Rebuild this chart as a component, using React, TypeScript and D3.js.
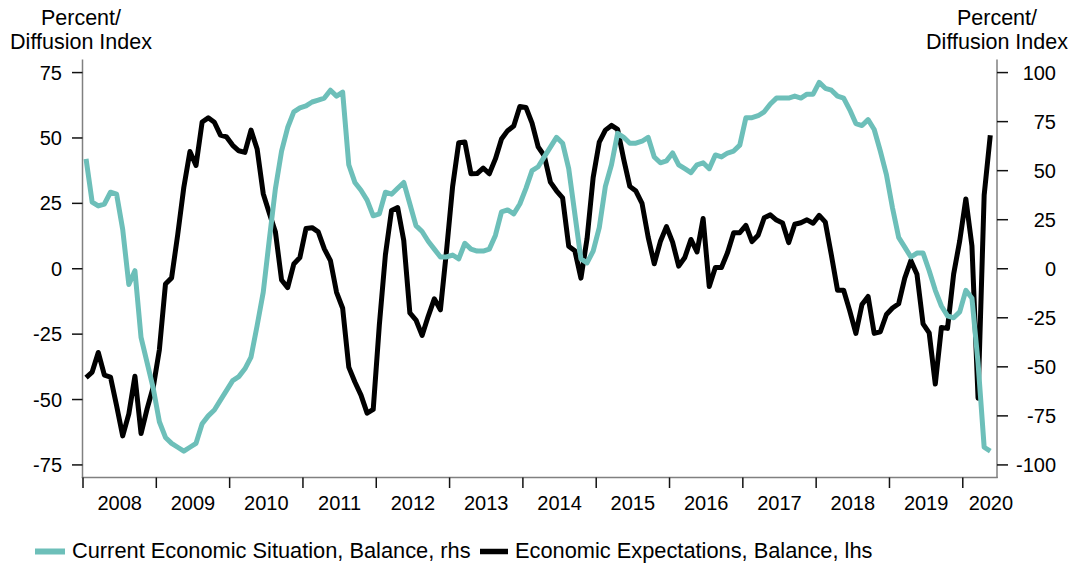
import * as d3 from 'd3';
import * as React from 'react';

// ZEW-style survey, monthly Jan 2008 - May 2020
const years = ['2008', '2009', '2010', '2011', '2012', '2013', '2014', '2015', '2016', '2017', '2018', '2019', '2020'];

// Current Economic Situation, Balance (right axis)
const currentSituation = [
  56, 34, 32, 33, 39, 38, 20, -8, -1, -35, -48, -61,
  -78, -86, -89, -91, -93, -91, -89, -79, -75, -72, -67, -62,
  -57, -55, -51, -45, -29, -12, 15, 41, 60, 72, 80, 82,
  83, 85, 86, 87, 91, 88, 90, 53, 44, 40, 35, 27,
  28, 39, 38, 41, 44, 33, 22, 19, 14, 10, 6, 6,
  7, 5, 13, 10, 9, 9, 10, 17, 29, 30, 28, 33,
  41, 50, 52, 57, 62, 67, 64, 51, 28, 5, 3, 9,
  21, 42, 53, 69, 67, 64, 64, 65, 67, 57, 54, 55,
  59, 53, 51, 49, 53, 54, 51, 58, 57, 59, 60, 63,
  77, 77, 78, 80, 84, 87, 87, 87, 88, 87, 89, 89,
  95, 92, 91, 88, 87, 81, 74, 73, 76, 71, 60, 48,
  31, 16, 11, 6, 8, 8, -1, -11, -19, -24, -25, -22,
  -11, -15, -48, -91, -93,
];

// Economic Expectations, Balance (left axis)
const expectations = [
  -41.6, -39.5, -32.0, -40.7, -41.4, -52.4, -63.9, -55.5, -41.1, -63.0, -53.5, -45.2,
  -31.0, -5.8, -3.5, 13.0, 31.1, 44.8, 39.5, 56.1, 57.7, 56.0, 51.1, 50.4,
  47.2, 45.1, 44.5, 53.0, 45.8, 28.7, 21.2, 14.0, -4.3, -7.2, 1.8, 4.3,
  15.4, 15.7, 14.1, 7.6, 3.1, -9.0, -15.1, -37.6, -43.3, -48.3, -55.2, -53.8,
  -21.6, 5.4, 22.3, 23.4, 10.8, -16.9, -19.6, -25.5, -18.2, -11.5, -15.7, 6.9,
  31.5, 48.2, 48.5, 36.3, 36.4, 38.5, 36.3, 42.0, 49.6, 52.8, 54.6, 62.0,
  61.7, 55.7, 46.6, 43.2, 33.1, 29.8, 27.1, 8.6, 6.9, -3.6, 11.5, 34.9,
  48.4, 53.0, 54.8, 53.3, 41.9, 31.5, 29.7, 25.0, 12.1, 1.9, 10.4, 16.1,
  10.2, 1.0, 4.3, 11.2, 6.4, 19.2, -6.8, 0.5, 0.5, 6.2, 13.8, 13.8,
  16.6, 10.4, 12.8, 19.5, 20.6, 18.6, 17.5, 10.0, 17.0, 17.6, 18.7, 17.4,
  20.4, 17.8, 5.1, -8.2, -8.2, -16.1, -24.7, -13.7, -10.6, -24.7, -24.1, -17.5,
  -15.0, -13.4, -3.6, 3.1, -2.1, -21.1, -24.5, -44.1, -22.5, -22.8, -2.1, 10.7,
  26.7, 8.7, -49.5, 28.2, 51.0,
];

const leftTicks = [-75, -50, -25, 0, 25, 50, 75];
const rightTicks = [-100, -75, -50, -25, 0, 25, 50, 75, 100];

const TEAL = '#6dbfb9';
const FONT = '"Liberation Sans", Arial, sans-serif';

const App = () => {
  const width = 1087;
  const height = 565;
  const plot = { left: 83, right: 997, top: 59.5, bottom: 478 };

  // x in months since Jan 2008, points at mid-month
  const x = d3.scaleLinear().domain([0, 149.6]).range([plot.left, plot.right]);
  const yLeft = d3.scaleLinear().domain([-80, 80]).range([plot.bottom, plot.top]);
  const yRight = d3.scaleLinear().domain([-320 / 3, 320 / 3]).range([plot.bottom, plot.top]);

  const lineLeft = d3
    .line<number>()
    .x((d, i) => x(i + 0.5))
    .y((d) => yLeft(d));
  const lineRight = d3
    .line<number>()
    .x((d, i) => x(i + 0.5))
    .y((d) => yRight(d));

  const lastMonth = currentSituation.length;

  return (
    <svg width={width} height={height} style={{ position: 'absolute', left: 0, top: 0, background: '#fff' }} fontFamily={FONT}>
      {/* axis titles */}
      {[plot.left - 2, plot.right].map((cx, k) => (
        <text key={k} x={cx} textAnchor="middle" fontSize={21.5} fill="#000">
          <tspan x={cx} y={25}>Percent/</tspan>
          <tspan x={cx} y={48.5}>Diffusion Index</tspan>
        </text>
      ))}

      {/* series */}
      <path d={lineLeft(expectations) || ''} fill="none" stroke="#000" strokeWidth={5} strokeLinejoin="round" />
      <path d={lineRight(currentSituation) || ''} fill="none" stroke={TEAL} strokeWidth={5} strokeLinejoin="round" />

      {/* left axis */}
      <line x1={plot.left - 0.5} x2={plot.left - 0.5} y1={plot.top} y2={plot.bottom} stroke="#808080" strokeWidth={1.5} />
      {leftTicks.map((t) => (
        <g key={t}>
          <line x1={plot.left - 11} x2={plot.left - 0.5} y1={yLeft(t)} y2={yLeft(t)} stroke="#111" strokeWidth={1.5} />
          <text x={62} y={yLeft(t)} dy="0.35em" textAnchor="end" fontSize={20} fill="#000">
            {t}
          </text>
        </g>
      ))}

      {/* right axis */}
      <line x1={plot.right} x2={plot.right} y1={plot.top} y2={plot.bottom} stroke="#808080" strokeWidth={1.5} />
      {rightTicks.map((t) => (
        <g key={t}>
          <line x1={plot.right} x2={plot.right + 11} y1={yRight(t)} y2={yRight(t)} stroke="#111" strokeWidth={1.5} />
          <text x={1056} y={yRight(t)} dy="0.35em" textAnchor="end" fontSize={20} fill="#000">
            {t}
          </text>
        </g>
      ))}

      {/* bottom axis */}
      <line x1={plot.left - 1.25} x2={plot.right + 0.75} y1={plot.bottom - 0.5} y2={plot.bottom - 0.5} stroke="#808080" strokeWidth={1.5} />
      {years.map((yr, i) => {
        const m = i * 12;
        const labelM = i === years.length - 1 ? lastMonth - 0.4 : m + 6;
        return (
          <g key={yr}>
            <line x1={x(m)} x2={x(m)} y1={plot.bottom - 0.5} y2={plot.bottom + 10} stroke="#111" strokeWidth={1.5} />
            <text x={x(labelM)} y={510} textAnchor="middle" fontSize={20} fill="#000">
              {yr}
            </text>
          </g>
        );
      })}

      {/* legend */}
      <line x1={35} x2={65} y1={551.5} y2={551.5} stroke={TEAL} strokeWidth={6} />
      <text x={72} y={557.5} fontSize={21.8} fill="#000">
        Current Economic Situation, Balance, rhs
      </text>
      <line x1={480} x2={508} y1={551.5} y2={551.5} stroke="#000" strokeWidth={5.5} />
      <text x={515} y={557.5} fontSize={21.8} fill="#000">
        Economic Expectations, Balance, lhs
      </text>
    </svg>
  );
};

export default App;
